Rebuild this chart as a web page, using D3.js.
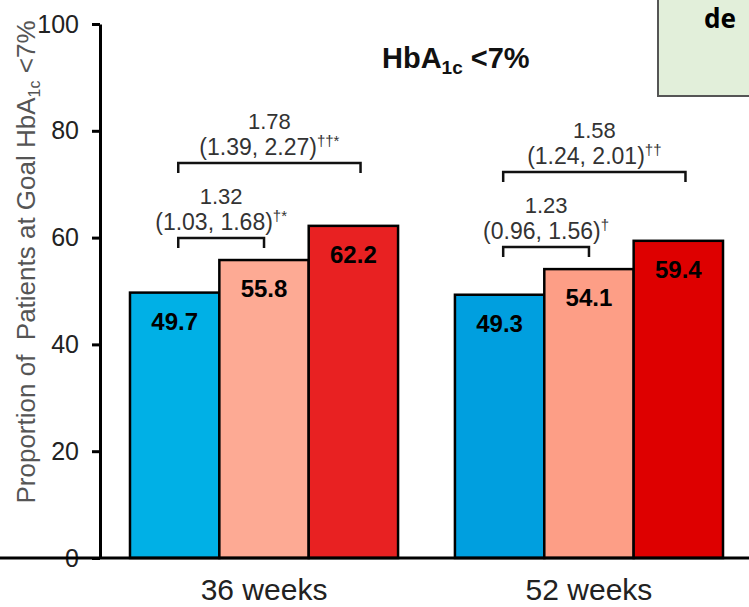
<!DOCTYPE html>
<html>
<head>
<meta charset="utf-8">
<script src="https://cdn.jsdelivr.net/npm/d3@7"></script>
<style>
  html, body { margin: 0; padding: 0; background: #fff; }
  svg { display: block; font-family: "Liberation Sans", Arial, sans-serif; }
</style>
</head>
<body>
<svg id="chart" width="749" height="607"></svg>
<script>
// Proportion of patients reaching HbA1c <7%, by visit week and treatment arm
const weeks = ["36 weeks", "52 weeks"];
const arms = ["low", "mid", "high"];
const values36 = [49.7, 55.8, 62.2];
const values52 = [49.3, 54.1, 59.4];
const colors36 = ["#00b0e6", "#fdaa94", "#e82122"];
const colors52 = ["#009fdf", "#fd9e86", "#de0000"];
const yTicks = [0, 20, 40, 60, 80, 100];

// Odds ratios (95% CI) comparing each arm with the low arm
const smallRatio = ["1.32", "1.23"];
const smallCI = ["(1.03, 1.68)", "(0.96, 1.56)"];
const smallMark = ["†*", "†"];
const bigRatio = ["1.78", "1.58"];
const bigCI = ["(1.39, 2.27)", "(1.24, 2.01)"];
const bigMark = ["††*", "††"];

const seriesValues = [values36, values52];
const seriesColors = [colors36, colors52];

const svg = d3.select("#chart");

const y = d3.scaleLinear().domain([0, 100]).range([558, 24]);
const x0 = d3.scaleBand().domain(weeks).range([100, 753])
  .paddingInner(0.175).paddingOuter(0.0923);
const x1 = d3.scaleBand().domain(arms).range([0, x0.bandwidth()]).padding(0);

// Bars
weeks.forEach((w, gi) => {
  const g = svg.append("g").attr("transform", `translate(${x0(w)},0)`);
  const data = arms.map((a, i) => ({ arm: a, v: seriesValues[gi][i], c: seriesColors[gi][i] }));
  g.selectAll("rect").data(data).join("rect")
    .attr("x", d => x1(d.arm))
    .attr("y", d => y(d.v))
    .attr("width", x1.bandwidth())
    .attr("height", d => y(0) - y(d.v))
    .attr("fill", d => d.c)
    .attr("stroke", "#000")
    .attr("stroke-width", 2.5);
  g.selectAll("text.val").data(data).join("text")
    .attr("class", "val")
    .attr("x", d => x1(d.arm) + x1.bandwidth() / 2)
    .attr("y", d => y(d.v) + 37)
    .attr("text-anchor", "middle")
    .attr("font-weight", "bold")
    .attr("font-size", 24)
    .attr("fill", "#000")
    .text(d => d.v.toFixed(1));
});

// Brackets with odds ratio annotations
function bracket(xl, xr, yb, ratio, ci, mark) {
  svg.append("path")
    .attr("d", `M${xl},${yb + 10}V${yb}H${xr}V${yb + 10}`)
    .attr("fill", "none").attr("stroke", "#111").attr("stroke-width", 2.5);
  const cx = (xl + xr) / 2;
  svg.append("text").attr("x", cx).attr("y", yb - 34)
    .attr("text-anchor", "middle").attr("font-size", 22).attr("fill", "#333")
    .text(ratio);
  const t = svg.append("text").attr("x", cx).attr("y", yb - 8)
    .attr("text-anchor", "middle").attr("font-size", 23).attr("fill", "#333");
  t.append("tspan").text(ci);
  t.append("tspan").attr("font-size", 15).attr("dy", -9).text(mark);
}

weeks.forEach((w, gi) => {
  const bw = x1.bandwidth();
  const base = x0(w);
  const xl = base + x1("low") + bw * 0.54;
  const xm = base + x1("mid") + bw * 0.5;
  const xr = base + x1("high") + bw * 0.58;
  const ySmall = y(seriesValues[gi][1]) - 22;
  const yBig = ySmall - 75;
  bracket(xl, xm, ySmall, smallRatio[gi], smallCI[gi], smallMark[gi]);
  bracket(xl, xr, yBig, bigRatio[gi], bigCI[gi], bigMark[gi]);
});

// Y axis
const yAxis = d3.axisLeft(y).tickValues(yTicks).tickSize(8).tickSizeOuter(0).tickPadding(13);
const ya = svg.append("g").attr("transform", "translate(100,0)").call(yAxis);
ya.select(".domain").attr("stroke", "#000").attr("stroke-width", 3);
ya.selectAll(".tick line").attr("stroke", "#000").attr("stroke-width", 3);
ya.selectAll(".tick text").attr("font-size", 25).attr("fill", "#222")
  .attr("font-family", "Liberation Sans, Arial, sans-serif");

// X axis baseline and category labels
const xAxis = d3.axisBottom(x0).tickSize(0).tickSizeOuter(0).tickPadding(30);
const xa = svg.append("g").attr("transform", `translate(0,${y(0)})`).call(xAxis);
xa.select(".domain").attr("d", `M-8,0H760`).attr("stroke", "#000").attr("stroke-width", 3);
xa.selectAll(".tick text").attr("font-size", 30).attr("fill", "#222")
  .attr("font-family", "Liberation Sans, Arial, sans-serif")
  .attr("dy", 0).attr("y", 42);

// Y axis title
const yt = svg.append("text")
  .attr("transform", "translate(35,262) rotate(-90)")
  .attr("text-anchor", "middle").attr("font-size", 26).attr("fill", "#555");
yt.append("tspan").text("Proportion of\u00a0 Patients at Goal HbA");
yt.append("tspan").attr("font-size", 16).attr("dy", 5).text("1c");
yt.append("tspan").attr("dy", -5).text(" <7%");

// Panel title
const title = svg.append("text").attr("x", 382).attr("y", 68)
  .attr("font-weight", "bold").attr("font-size", 29).attr("fill", "#111");
title.append("tspan").text("HbA");
title.append("tspan").attr("font-size", 19).attr("dy", 6).text("1c");
title.append("tspan").attr("dy", -6).text(" <7%");

// Note box in the upper right corner
svg.append("rect").attr("x", 658).attr("y", -5).attr("width", 100).attr("height", 101)
  .attr("fill", "#e2efda").attr("stroke", "#555").attr("stroke-width", 2);
svg.append("text").attr("x", 704).attr("y", 28)
  .attr("font-family", "Noto Sans, Open Sans, sans-serif")
  .attr("font-weight", "bold").attr("font-size", 26).attr("fill", "#000")
  .text("de");
</script>
</body>
</html>
